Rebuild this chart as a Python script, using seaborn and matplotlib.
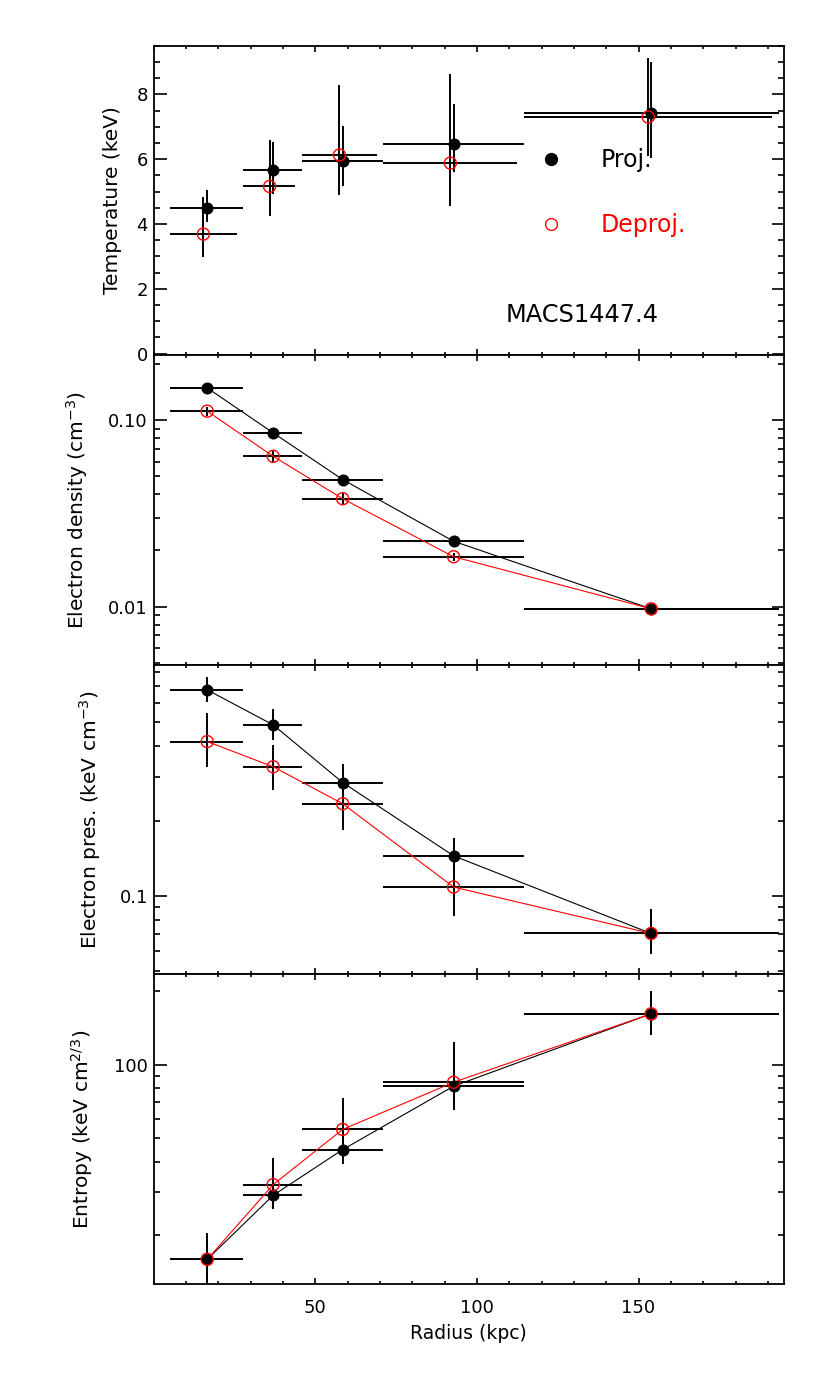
import numpy as np
import pandas as pd
import matplotlib
matplotlib.use("Agg")
import matplotlib.pyplot as plt
import matplotlib.ticker as mticker
from matplotlib.lines import Line2D
import seaborn as sns

# radial bins (kpc)
r_mid = [16.6, 37.0, 58.5, 92.8, 153.9]
r_lo = [5.1, 27.8, 45.9, 71.1, 114.5]
r_hi = [27.8, 45.9, 71.1, 114.5, 193.3]
# deprojected temperatures are plotted with a small offset
r_mid_tdep = [15.4, 35.9, 57.5, 91.8, 153.0]
r_lo_tdep = [5.1, 27.8, 45.9, 71.1, 114.5]
r_hi_tdep = [25.8, 43.8, 69.1, 112.4, 191.4]

# temperature (keV)
t_proj = [4.49, 5.66, 5.95, 6.48, 7.41]
t_proj_lo = [4.06, 4.92, 5.18, 5.61, 6.05]
t_proj_hi = [5.06, 6.53, 7.03, 7.69, 9.00]
t_dep = [3.69, 5.16, 6.13, 5.88, 7.30]
t_dep_lo = [2.98, 4.24, 4.90, 4.56, 6.10]
t_dep_hi = [4.82, 6.58, 8.28, 8.62, 9.13]

# electron density (cm^-3)
ne_proj = [0.149, 0.0855, 0.048, 0.0224, 0.00972]
ne_proj_lo = [0.146, 0.0835, 0.0468, 0.0218, 0.0095]
ne_proj_hi = [0.152, 0.0875, 0.0492, 0.0230, 0.0099]
ne_dep = [0.1118, 0.0640, 0.0379, 0.0185, 0.00972]
ne_dep_lo = [0.105, 0.0594, 0.0355, 0.0176, 0.0095]
ne_dep_hi = [0.118, 0.0687, 0.0405, 0.0194, 0.0099]

# electron pressure (keV cm^-3)
pe_proj = [0.675, 0.488, 0.286, 0.145, 0.0706]
pe_proj_lo = [0.602, 0.425, 0.243, 0.123, 0.0582]
pe_proj_hi = [0.764, 0.565, 0.339, 0.171, 0.0884]
pe_dep = [0.418, 0.331, 0.235, 0.1086, 0.0706]
pe_dep_lo = [0.330, 0.267, 0.185, 0.083, 0.0582]
pe_dep_hi = [0.547, 0.406, 0.292, 0.139, 0.0884]

# entropy (keV cm^2/3)
k_proj = [15.9, 29.1, 44.8, 81.5, 161.4]
k_proj_lo = [12.0, 25.6, 39.2, 64.8, 132.7]
k_proj_hi = [20.4, 32.8, 51.0, 123.4, 201.0]
k_dep = [15.9, 32.2, 54.2, 84.6, 161.4]
k_dep_lo = [12.0, 27.0, 44.0, 66.0, 132.7]
k_dep_hi = [20.4, 41.2, 73.0, 123.4, 201.0]

sns.set_theme(style="ticks")
plt.rcParams["font.family"] = ["DejaVu Sans"]
plt.rcParams["mathtext.fontset"] = "dejavusans"
plt.rcParams["text.color"] = "black"
plt.rcParams["axes.labelcolor"] = "black"


def draw(ax, x, xlo, xhi, y, ylo, yhi, color, filled, line):
    x = np.array(x)
    y = np.array(y)
    xerr = [x - np.array(xlo), np.array(xhi) - x]
    yerr = [y - np.array(ylo), np.array(yhi) - y]
    ax.errorbar(x, y, xerr=xerr, yerr=yerr, fmt="none", ecolor="black",
                elinewidth=1.4, capsize=0, zorder=2)
    df = pd.DataFrame({"r": x, "v": y})
    if line:
        sns.lineplot(data=df, x="r", y="v", color=color, lw=0.8, sort=False,
                     estimator=None, ax=ax, zorder=3)
    if filled:
        sns.scatterplot(data=df, x="r", y="v", color=color, s=75,
                        linewidth=0, ax=ax, zorder=4)
    else:
        sns.scatterplot(data=df, x="r", y="v", facecolors="none",
                        edgecolor=color, s=75, linewidth=1.0, ax=ax, zorder=5)


fig, axes = plt.subplots(4, 1, sharex=True, figsize=(8.3, 13.82), dpi=100)
fig.subplots_adjust(left=0.185, right=0.9446, top=0.9669, bottom=0.0709, hspace=0)
ax1, ax2, ax3, ax4 = axes

for ax in axes[1:]:
    ax.set_yscale("log")

draw(ax1, r_mid, r_lo, r_hi, t_proj, t_proj_lo, t_proj_hi, "black", True, False)
draw(ax1, r_mid_tdep, r_lo_tdep, r_hi_tdep, t_dep, t_dep_lo, t_dep_hi, "red", False, False)
draw(ax2, r_mid, r_lo, r_hi, ne_proj, ne_proj_lo, ne_proj_hi, "black", True, True)
draw(ax2, r_mid, r_lo, r_hi, ne_dep, ne_dep_lo, ne_dep_hi, "red", False, True)
draw(ax3, r_mid, r_lo, r_hi, pe_proj, pe_proj_lo, pe_proj_hi, "black", True, True)
draw(ax3, r_mid, r_lo, r_hi, pe_dep, pe_dep_lo, pe_dep_hi, "red", False, True)
draw(ax4, r_mid, r_lo, r_hi, k_proj, k_proj_lo, k_proj_hi, "black", True, True)
draw(ax4, r_mid, r_lo, r_hi, k_dep, k_dep_lo, k_dep_hi, "red", False, True)

ax1.set_xlim(0, 195)
ax1.set_ylim(-0.05, 9.5)
ax2.set_ylim(0.00486, 0.223)
ax3.set_ylim(0.0483, 0.851)
ax4.set_ylim(12.6, 234)

ax1.yaxis.set_major_locator(mticker.MultipleLocator(2))
ax1.yaxis.set_minor_locator(mticker.MultipleLocator(0.5))
ax4.xaxis.set_major_locator(mticker.FixedLocator([50, 100, 150]))
ax4.xaxis.set_minor_locator(mticker.MultipleLocator(10))

log_ticks = {ax2: ([0.01, 0.1], ["0.01", "0.10"]),
             ax3: ([0.1], ["0.1"]),
             ax4: ([100], ["100"])}
for ax, (vals, labs) in log_ticks.items():
    ax.yaxis.set_major_locator(mticker.FixedLocator(vals))
    ax.yaxis.set_major_formatter(mticker.FixedFormatter(labs))
    ax.yaxis.set_minor_locator(mticker.LogLocator(base=10, subs=np.arange(2, 10)))
    ax.yaxis.set_minor_formatter(mticker.NullFormatter())

for ax in axes:
    for s in ax.spines.values():
        s.set_linewidth(1.3)
        s.set_color("black")
    ax.tick_params(which="both", direction="in", top=True, right=True,
                   width=1.2, color="black", labelsize=13, labelcolor="black")
    ax.tick_params(axis="y", which="major", length=9, pad=4)
    ax.tick_params(axis="y", which="minor", length=4.5)
    ax.tick_params(axis="x", which="major", length=4.5, pad=11)
    ax.tick_params(axis="x", which="minor", length=2.5)
    ax.set_xlabel("")
    ax.grid(False)

lab_size = 14.5
ax1.set_ylabel("Temperature (keV)", fontsize=lab_size)
ax2.set_ylabel("Electron density (cm$^{-3}$)", fontsize=lab_size)
ax3.set_ylabel("Electron pres. (keV cm$^{-3}$)", fontsize=lab_size)
ax4.set_ylabel("Entropy (keV cm$^{2/3}$)", fontsize=lab_size)
ax1.yaxis.set_label_coords(-0.050, 0.5)
ax2.yaxis.set_label_coords(-0.101, 0.5)
ax3.yaxis.set_label_coords(-0.080, 0.5)
ax4.yaxis.set_label_coords(-0.093, 0.5)
ax4.set_xlabel("Radius (kpc)", fontsize=13.5, labelpad=5)

handles = [Line2D([], [], marker="o", ls="none", color="black", ms=8.5),
           Line2D([], [], marker="o", ls="none", mfc="none", mec="red", mew=1, ms=8.5)]
ax1.legend(handles, ["Proj.", "Deproj."], loc="upper left",
           bbox_to_anchor=(0.612, 0.67), frameon=False, fontsize=17,
           labelcolor=["black", "red"], handlelength=1.0, handletextpad=1.6,
           labelspacing=1.75, borderpad=0, borderaxespad=0)
ax1.text(0.559, 0.131, "MACS1447.4", transform=ax1.transAxes, fontsize=17.3,
         ha="left", va="center", color="black")

fig.savefig("out.png", dpi=100)
